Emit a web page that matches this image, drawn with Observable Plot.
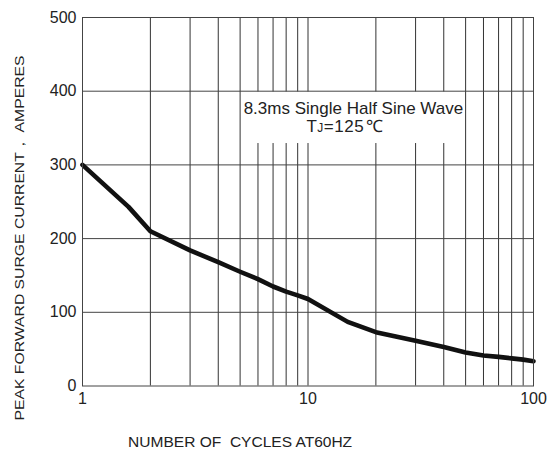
<!DOCTYPE html>
<html><head><meta charset="utf-8">
<script src="https://cdn.jsdelivr.net/npm/d3@7"></script>
<script src="https://cdn.jsdelivr.net/npm/@observablehq/plot@0.6"></script>
<style>body{margin:0;background:#fff}</style>
</head><body><div id="chart"></div>
<script>
const cycles  = [1, 1.6, 2, 3, 4, 5, 6, 7, 8, 9, 10, 15, 20, 30, 40, 50, 60, 70, 80, 90, 100];
const current = [300, 243, 210, 184, 168, 155, 145, 135, 128, 123, 118, 87, 73, 61.5, 53, 45.5, 41.5, 39.5, 37.5, 35.8, 33.7];
const xTicks = [1, 10, 100];
const yTicks = [0, 100, 200, 300, 400, 500];
const xGrid = [2, 3, 4, 5, 6, 7, 8, 9, 10, 20, 30, 40, 50, 60, 70, 80, 90];
const yGrid = [100, 200, 300, 400];
const xLabel = "NUMBER OF  CYCLES AT60HZ";
const yLabel = "PEAK FORWARD SURGE CURRENT， AMPERES";
const noteLines = ["8.3ms Single Half Sine Wave", "TJ=125℃"];
const noteX = [15.9, 14.6];
const noteY = [376, 352];
const noteBox = [{x1: 5.4, x2: 45, y1: 329, y2: 399}];

const curve = cycles.map((c, i) => ({c, v: current[i]}));
const notes = noteLines.map((t, i) => ({t, x: noteX[i], y: noteY[i]}));
const font = "'Liberation Sans', Arial, sans-serif";

const chart = Plot.plot({
  width: 551, height: 459,
  marginLeft: 82, marginRight: 18, marginTop: 17, marginBottom: 73.5,
  style: {fontFamily: font, fontSize: "16px", background: "#fff", color: "#222"},
  x: {type: "log", domain: [1, 100], ticks: xTicks, tickFormat: d => String(d), tickSize: 0, tickPadding: 7, label: null},
  y: {domain: [0, 500], ticks: yTicks, tickSize: 0, tickPadding: 6, label: null},
  marks: [
    Plot.ruleX(xGrid, {stroke: "#333", strokeWidth: 1}),
    Plot.rect(noteBox, {x1: "x1", x2: "x2", y1: "y1", y2: "y2", fill: "white"}),
    Plot.ruleY(yGrid, {stroke: "#444", strokeWidth: 1}),
    Plot.text(notes, {x: "x", y: "y", text: "t", fontSize: 17, fill: "#222"}),
    Plot.line(curve, {x: "c", y: "v", stroke: "#111", strokeWidth: 4.6, strokeLinejoin: "round", strokeLinecap: "round"}),
    Plot.frame({stroke: "#444"}),
    Plot.text([xLabel], {x: 5, frameAnchor: "bottom", dy: 61, fontSize: 15.5, fill: "#222"}),
    Plot.text([yLabel], {frameAnchor: "bottom-left", dx: -59, dy: 34.5, rotate: -90, textAnchor: "start", fontSize: 15, fill: "#222"})
  ]
});
document.getElementById("chart").appendChild(chart);

const svg = d3.select(chart);
svg.selectAll("text").filter(function() { return this.textContent === yLabel; })
  .attr("textLength", 365).attr("lengthAdjust", "spacingAndGlyphs")
  .attr("transform", function() { return (this.getAttribute("transform") || "") + " scale(1,0.8)"; });
svg.selectAll("text").filter(function() { return this.textContent === xLabel; })
  .attr("textLength", 224).attr("lengthAdjust", "spacingAndGlyphs");
svg.selectAll("text").filter(function() { return this.textContent === noteLines[1]; })
  .each(function() {
    const el = d3.select(this);
    el.text(null);
    el.append("tspan").text("T");
    el.append("tspan").attr("font-size", 12).text("J");
    el.append("tspan").text("=125");
    el.append("tspan").attr("dx", 2).text("℃");
    el.style("letter-spacing", "0.5px");
  });
</script>
</body></html>
